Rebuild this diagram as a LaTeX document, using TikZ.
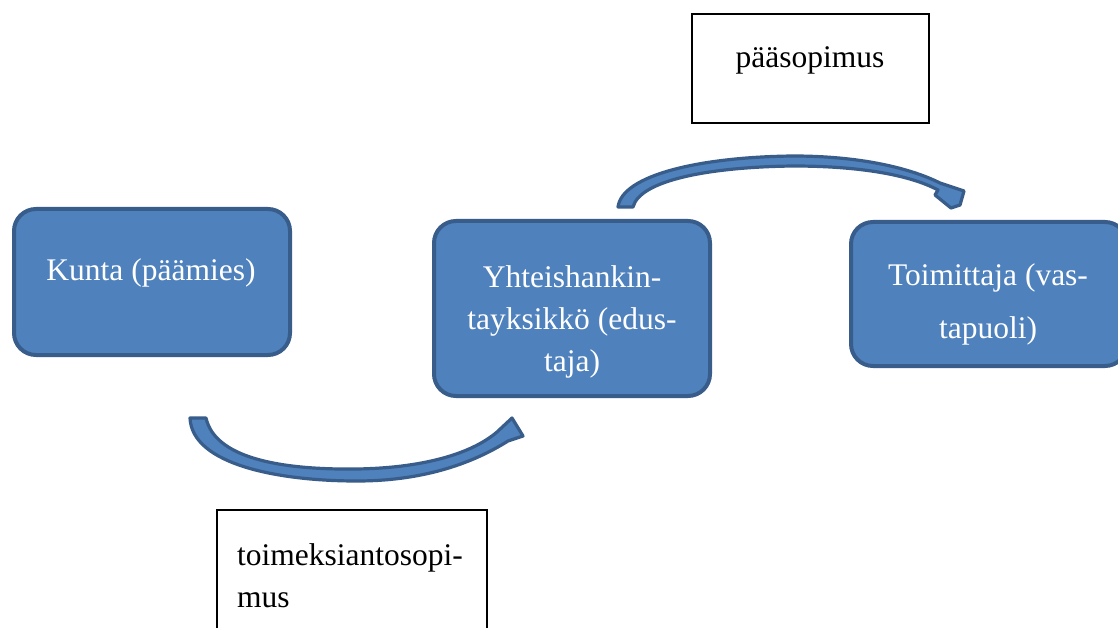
\documentclass[tikz,border=0pt]{standalone}
\usepackage{fontspec}
\setmainfont{Liberation Serif}
\definecolor{boxfill}{HTML}{4F81BD}
\definecolor{boxline}{HTML}{385D8A}
\begin{document}
\begin{tikzpicture}[x=1pt,y=-1pt,
  party/.style={draw=boxline, fill=boxfill, line width=4pt, rounded corners=22pt,
    inner sep=0pt, minimum width=276pt},
  note/.style={draw=black, fill=white, line width=1.3pt, inner sep=0pt},
  lbl/.style={inner sep=0pt, anchor=base, align=center},
  whitetext/.style={lbl, text=white},
  bigfont/.style={font=\fontsize{31.5}{#1}\selectfont},
  bentarrow/.style={fill=boxfill, draw=boxline, line width=3.2pt, line join=round}]
\clip (0,0) rectangle (1118,628);
\fill[white] (0,0) rectangle (1118,628);

% the three parties
\node[party, minimum height=146pt] (kunta) at (152,282) {};
\node[party, minimum height=175pt] (yhteis) at (572,308.5) {};
\node[party, minimum height=144pt] (toim) at (989,294) {};

% multi-line labels are anchored at the baseline of their last line
\node[whitetext, bigfont=42] (kuntatxt) at (151,280) {Kunta (päämies)};
\node[whitetext, bigfont=42] (yhteistxt) at (572,371) {Yhteishankin-\\tayksikkö (edus-\\taja)};
\node[whitetext, bigfont=53] (toimtxt) at (988,338) {Toimittaja (vas-\\tapuoli)};

% contract labels
\node[note, minimum width=237pt, minimum height=109pt] (paa) at (810.5,68.5) {};
\node[lbl, bigfont=42] (paatxt) at (810,68) {pääsopimus};
\node[note, minimum width=270pt, minimum height=130pt] (toimek) at (352,575) {};
\node[lbl, bigfont=42, anchor=base west, align=left] (toimektxt) at (237,607) {toimeksiantosopi-\\mus};

% curved arrow below: from the principal to the procurement unit
\coordinate (a1s) at (198,418);
\coordinate (a1e) at (523,436);
\draw[bentarrow] (190,418) .. controls (192,465) and (280,481) .. (357,481)
  .. controls (420,481) and (470,465) .. (508,441)
  -- (a1e) -- (512,418) -- (497,432)
  .. controls (470,455) and (420,468) .. (357,469)
  .. controls (280,470) and (215,458) .. (206,418) -- cycle;

% curved arrow above: from the procurement unit to the supplier
\coordinate (a2s) at (625,207);
\coordinate (a2e) at (960,205);
\draw[bentarrow] (618,207) .. controls (622,175) and (700,157) .. (793,156)
  .. controls (860,156) and (910,168) .. (940,183)
  -- (964,191) -- (a2e) -- (951,208) -- (935,195) -- (938,190)
  .. controls (910,175) and (860,166) .. (793,166)
  .. controls (710,167) and (640,180) .. (633,207) -- cycle;
\end{tikzpicture}
\end{document}
